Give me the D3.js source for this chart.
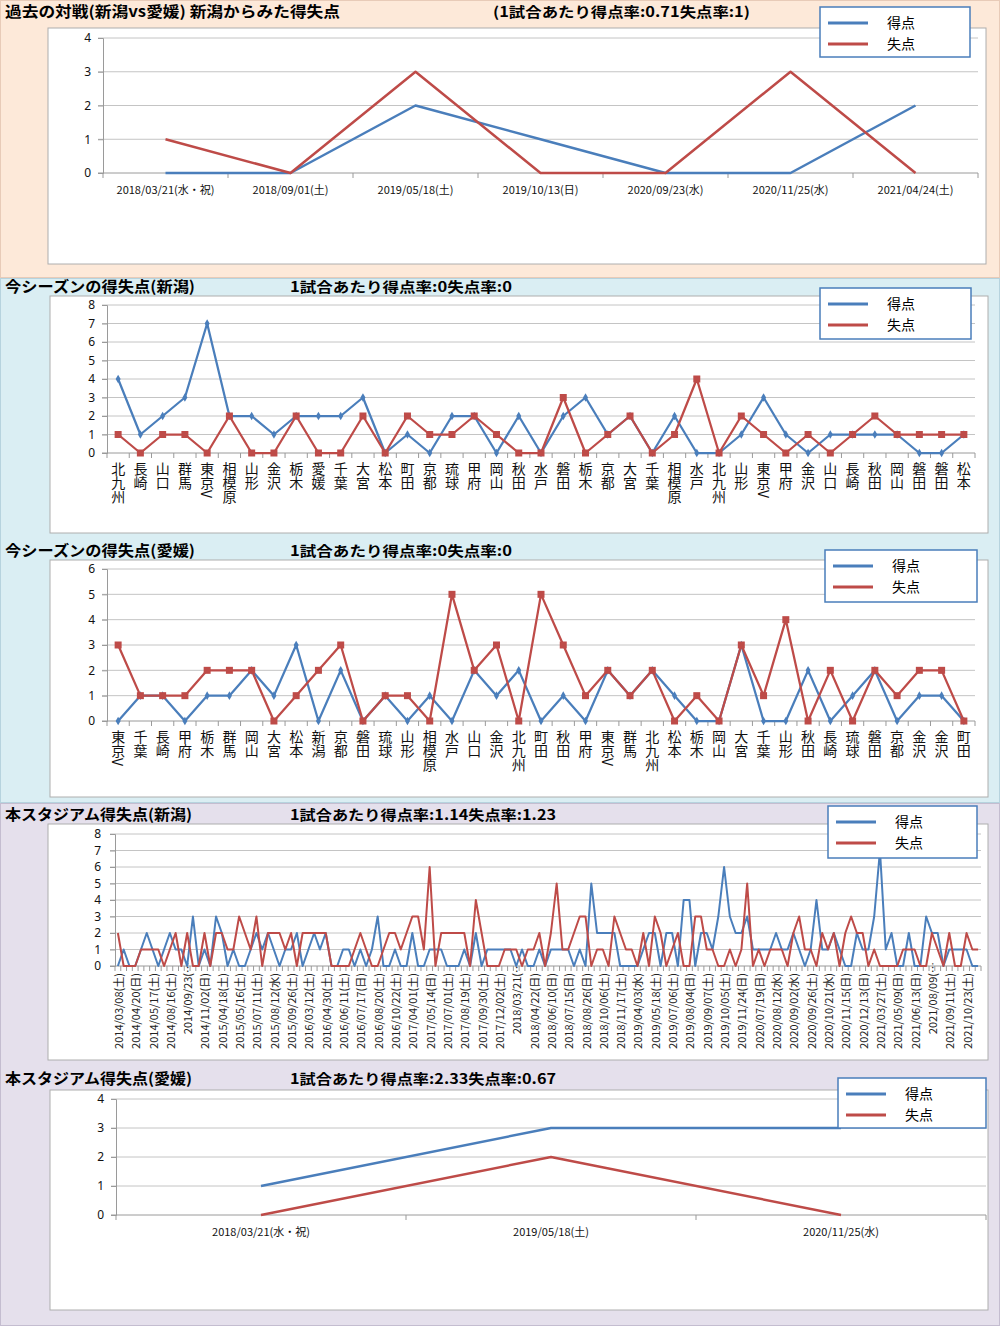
<!DOCTYPE html>
<html><head><meta charset="utf-8">
<script src="https://cdn.jsdelivr.net/npm/d3@7/dist/d3.min.js"></script>
<style>
body{margin:0;background:#fff;}
text{font-family:"Noto Sans CJK JP","Noto Sans",sans-serif;}
</style>
</head><body>
<svg id="c" width="1000" height="1326"></svg>
<script>
// ---------- DATA ----------
const legendNames = ["得点", "失点"];

const p1Title = "過去の対戦(新潟vs愛媛)  新潟からみた得失点";
const p1Sub = "(1試合あたり得点率:0.71失点率:1)";
const p1Dates = ["2018/03/21(水・祝)", "2018/09/01(土)", "2019/05/18(土)", "2019/10/13(日)", "2020/09/23(水)", "2020/11/25(水)", "2021/04/24(土)"];
const p1Scored = [0, 0, 2, 1, 0, 0, 2];
const p1Conceded = [1, 0, 3, 0, 0, 3, 0];

const p2Title = "今シーズンの得失点(新潟)";
const p2Sub = "1試合あたり得点率:0失点率:0";
const p2Teams = ["北九州","長崎","山口","群馬","東京V","相模原","山形","金沢","栃木","愛媛","千葉","大宮","松本","町田","京都","琉球","甲府","岡山","秋田","水戸","磐田","栃木","京都","大宮","千葉","相模原","水戸","北九州","山形","東京V","甲府","金沢","山口","長崎","秋田","岡山","磐田","磐田","松本"];
const p2Scored = [4,1,2,3,7,2,2,1,2,2,2,3,0,1,0,2,2,0,2,0,2,3,1,2,0,2,0,0,1,3,1,0,1,1,1,1,0,0,1];
const p2Conceded = [1,0,1,1,0,2,0,0,2,0,0,2,0,2,1,1,2,1,0,0,3,0,1,2,0,1,4,0,2,1,0,1,0,1,2,1,1,1,1];

const p3Title = "今シーズンの得失点(愛媛)";
const p3Sub = "1試合あたり得点率:0失点率:0";
const p3Teams = ["東京V","千葉","長崎","甲府","栃木","群馬","岡山","大宮","松本","新潟","京都","磐田","琉球","山形","相模原","水戸","山口","金沢","北九州","町田","秋田","甲府","東京V","群馬","北九州","松本","栃木","岡山","大宮","千葉","山形","秋田","長崎","琉球","磐田","京都","金沢","金沢","町田"];
const p3Scored = [0,1,1,0,1,1,2,1,3,0,2,0,1,0,1,0,2,1,2,0,1,0,2,1,2,1,0,0,3,0,0,2,0,1,2,0,1,1,0];
const p3Conceded = [3,1,1,1,2,2,2,0,1,2,3,0,1,1,0,5,2,3,0,5,3,1,2,1,2,0,1,0,3,1,4,0,2,0,2,1,2,2,0];

const p4Title = "本スタジアム得失点(新潟)";
const p4Sub = "1試合あたり得点率:1.14失点率:1.23";
// tick labels shown every third match
const p4Labels = ["2014/03/08(土)","2014/04/20(日)","2014/05/17(土)","2014/08/16(土)","2014/09/23(…","2014/11/02(日)","2015/04/18(土)","2015/05/16(土)","2015/07/11(土)","2015/08/12(水)","2015/09/26(土)","2016/03/12(土)","2016/04/30(土)","2016/06/11(土)","2016/07/17(日)","2016/08/20(土)","2016/10/22(土)","2017/04/01(土)","2017/05/14(日)","2017/07/01(土)","2017/08/19(土)","2017/09/30(土)","2017/12/02(土)","2018/03/21(…","2018/04/22(日)","2018/06/10(日)","2018/07/15(日)","2018/08/26(日)","2018/10/06(土)","2018/11/17(土)","2019/04/03(水)","2019/05/18(土)","2019/07/06(土)","2019/08/04(日)","2019/09/07(土)","2019/10/05(土)","2019/11/24(日)","2020/07/19(日)","2020/08/12(水)","2020/09/02(水)","2020/09/26(土)","2020/10/21(水)","2020/11/15(日)","2020/12/13(日)","2021/03/27(土)","2021/05/09(日)","2021/06/13(日)","2021/08/09(…","2021/09/11(土)","2021/10/23(土)"];
const p4Scored = [0,1,0,0,1,2,1,0,1,2, 1,1,0,3,0,1,0,3,2,0, 1,0,0,1,2,1,2,1,0,1, 1,2,0,1,2,1,2,0,0,1, 1,0,1,0,1,3,0,0,1,0,
  0,2,0,0,1,1,1,0,0,0, 1,0,2,0,1,1,1,1,1,0, 1,0,0,1,0,1,1,1,1,0, 1,0,5,2,2,2,2,0,0,0, 0,1,2,2,0,2,2,0,4,4,
  0,2,2,1,3,6,3,2,2,3, 1,1,1,1,2,1,1,2,1,0, 1,4,1,1,2,1,0,0,2,1, 1,3,7,1,2,0,0,2,0,0, 3,2,2,0,1,1,1,1,0,0];
const p4Conceded = [2,0,0,0,1,1,1,1,0,1, 2,0,2,0,0,2,0,2,2,1, 1,3,2,1,3,0,2,2,2,1, 2,0,2,2,2,2,2,0,0,0, 0,1,2,1,0,0,1,2,2,1,
  2,3,3,1,6,0,2,2,2,2, 2,0,4,2,0,0,0,1,1,1, 0,1,1,2,0,2,5,1,1,2, 3,3,0,1,1,0,3,2,1,1, 0,2,0,3,2,0,1,2,0,0,
  3,3,1,1,0,0,1,0,1,5, 0,1,0,1,1,1,0,2,3,1, 1,0,2,1,2,0,2,3,2,2, 0,1,0,0,0,0,1,1,1,0, 0,2,1,0,2,0,0,2,1,1];

const p5Title = "本スタジアム得失点(愛媛)";
const p5Sub = "1試合あたり得点率:2.33失点率:0.67";
const p5Dates = ["2018/03/21(水・祝)", "2019/05/18(土)", "2020/11/25(水)"];
const p5Scored = [1, 3, 3];
const p5Conceded = [0, 2, 0];

// ---------- DRAW ----------
const BLUE = "#4a7ebb", RED = "#be4b48", GRID = "#c4c4c4", AXIS = "#9a9a9a";
const svg = d3.select("#c");

// section backgrounds
[[0, 278, "#fde9d9", "#e8cbb8"], [278, 525, "#daeef3", "#b6d3de"], [803, 523, "#e5e0ec", "#c4bdd0"]].forEach(s => {
  svg.append("rect").attr("x", 0.5).attr("y", s[0] + 0.5).attr("width", 999).attr("height", s[1] - 1)
    .attr("fill", s[2]).attr("stroke", s[3]);
});

function titles(t, sub, y, tw, sx, sw) {
  svg.append("text").attr("x", 5).attr("y", y).attr("font-size", 15).attr("font-weight", "bold")
    .attr("textLength", tw).attr("lengthAdjust", "spacingAndGlyphs").text(t);
  svg.append("text").attr("x", sx).attr("y", y).attr("font-size", 14).attr("font-weight", "bold")
    .attr("textLength", sw).attr("lengthAdjust", "spacingAndGlyphs").text(sub);
}

function legend(bx, by, bw, bh) {
  const g = svg.append("g");
  g.append("rect").attr("x", bx).attr("y", by).attr("width", bw).attr("height", bh)
    .attr("fill", "#fff").attr("stroke", BLUE).attr("stroke-width", 1.5);
  [BLUE, RED].forEach((c, i) => {
    const yy = by + 16 + i * 21;
    g.append("line").attr("x1", bx + 8).attr("x2", bx + 48).attr("y1", yy).attr("y2", yy)
      .attr("stroke", c).attr("stroke-width", 3);
    g.append("text").attr("x", bx + 67).attr("y", yy).attr("dy", "0.35em").attr("font-size", 14)
      .text(legendNames[i]);
  });
}

function panel(o) {
  const g = svg.append("g");
  g.append("rect").attr("x", o.box[0]).attr("y", o.box[1]).attr("width", o.box[2]).attr("height", o.box[3])
    .attr("fill", "#fff").attr("stroke", "#aeaeae");
  const n = o.scored.length;
  const x = d3.scaleBand().domain(d3.range(n)).range([o.x0, o.x1]);
  const y = d3.scaleLinear().domain([0, o.ymax]).range([o.yz, o.yt]);
  const cx = i => x(i) + x.bandwidth() / 2;
  // gridlines
  g.selectAll(".grid").data(y.ticks(o.ymax)).join("line")
    .attr("x1", o.x0 - 5).attr("x2", o.x1).attr("y1", d => y(d)).attr("y2", d => y(d))
    .attr("stroke", d => d === 0 ? AXIS : GRID).attr("stroke-width", 1);
  // y axis
  const ya = g.append("g").attr("transform", `translate(${o.x0},0)`)
    .call(d3.axisLeft(y).ticks(o.ymax).tickSize(5).tickPadding(o.ypad).tickFormat(d3.format("d")));
  ya.selectAll("path,line").attr("stroke", AXIS);
  ya.selectAll("text").attr("font-size", o.yfs).attr("fill", "#111")
    .style("font-family", "'Noto Sans','Noto Sans CJK JP',sans-serif");
  // x boundary ticks
  g.selectAll(".xt").data(d3.range(n + 1)).join("line")
    .attr("x1", i => o.x0 + i * x.step()).attr("x2", i => o.x0 + i * x.step())
    .attr("y1", o.yz).attr("y2", o.yz + 5).attr("stroke", AXIS);
  // x labels
  if (o.labelMode === "horiz") {
    g.selectAll(".xl").data(d3.range(n)).join("text")
      .attr("x", cx).attr("y", o.yz + 17).attr("dy", "0.35em").attr("text-anchor", "middle")
      .attr("font-size", 11).attr("fill", "#111").text(i => o.cats[i]);
  } else if (o.labelMode === "vert") {
    g.selectAll(".xl").data(d3.range(n)).join("text")
      .attr("x", cx).attr("y", o.yz + 9)
      .style("writing-mode", "vertical-rl").style("text-orientation", "mixed")
      .attr("font-size", 14).attr("fill", "#111").text(i => o.cats[i]);
  } else {
    g.selectAll(".xl").data(d3.range(0, n, 3)).join("text")
      .attr("transform", i => {
        const lab = o.cats[i / 3];
        const yy = lab.endsWith("…") ? o.yz - 4 : o.yz + 7;
        return `translate(${cx(i)},${yy}) rotate(-90)`;
      })
      .attr("text-anchor", "end").attr("dominant-baseline", "central")
      .attr("font-size", 11).attr("fill", "#222").text(i => o.cats[i / 3]);
  }
  // lines
  const line = d3.line().x((d, i) => cx(i)).y(d => y(d));
  [[o.scored, BLUE], [o.conceded, RED]].forEach(([vals, col], k) => {
    g.append("path").datum(vals).attr("d", line).attr("fill", "none")
      .attr("stroke", col).attr("stroke-width", o.lw).attr("stroke-linejoin", "round");
    if (o.markers) {
      if (k === 0) {
        g.selectAll(".mb").data(vals).join("path")
          .attr("d", d3.symbol(d3.symbolDiamond, 22)())
          .attr("transform", (d, i) => `translate(${cx(i)},${y(d)})`).attr("fill", col);
      } else {
        g.selectAll(".mr").data(vals).join("rect")
          .attr("x", (d, i) => cx(i) - 3.5).attr("y", d => y(d) - 3.5)
          .attr("width", 7).attr("height", 7).attr("fill", col);
      }
    }
  });
}

// Panel 1
titles(p1Title, p1Sub, 17, 335, 493, 257);
panel({box: [48, 28, 938, 236], x0: 103, x1: 978, yz: 173, yt: 38, ymax: 4, cats: p1Dates,
  scored: p1Scored, conceded: p1Conceded, labelMode: "horiz", lw: 2.5, markers: false, yfs: 12, ypad: 7});
legend(820, 7, 150, 50);

// Panel 2
titles(p2Title, p2Sub, 292, 190, 290, 222);
panel({box: [50, 296, 938, 237], x0: 107, x1: 975, yz: 453, yt: 305, ymax: 8, cats: p2Teams,
  scored: p2Scored, conceded: p2Conceded, labelMode: "vert", lw: 2.25, markers: true, yfs: 12, ypad: 7});
legend(820, 288, 151, 51);

// Panel 3
titles(p3Title, p3Sub, 556, 190, 290, 222);
panel({box: [50, 560, 938, 237], x0: 107, x1: 975, yz: 721, yt: 569, ymax: 6, cats: p3Teams,
  scored: p3Scored, conceded: p3Conceded, labelMode: "vert", lw: 2.25, markers: true, yfs: 12, ypad: 7});
legend(825, 550, 152, 52);

// Panel 4
titles(p4Title, p4Sub, 820, 187, 290, 266);
panel({box: [48, 824, 940, 236], x0: 115, x1: 981, yz: 966, yt: 834, ymax: 8, cats: p4Labels,
  scored: p4Scored, conceded: p4Conceded, labelMode: "rot", lw: 2, markers: false, yfs: 12, ypad: 9});
legend(828, 806, 149, 52);

// Panel 5
titles(p5Title, p5Sub, 1084, 187, 290, 266);
panel({box: [50, 1090, 938, 220], x0: 116, x1: 986, yz: 1215, yt: 1099, ymax: 4, cats: p5Dates,
  scored: p5Scored, conceded: p5Conceded, labelMode: "horiz", lw: 2.5, markers: false, yfs: 12, ypad: 7});
legend(838, 1078, 148, 50);
</script>
</body></html>
